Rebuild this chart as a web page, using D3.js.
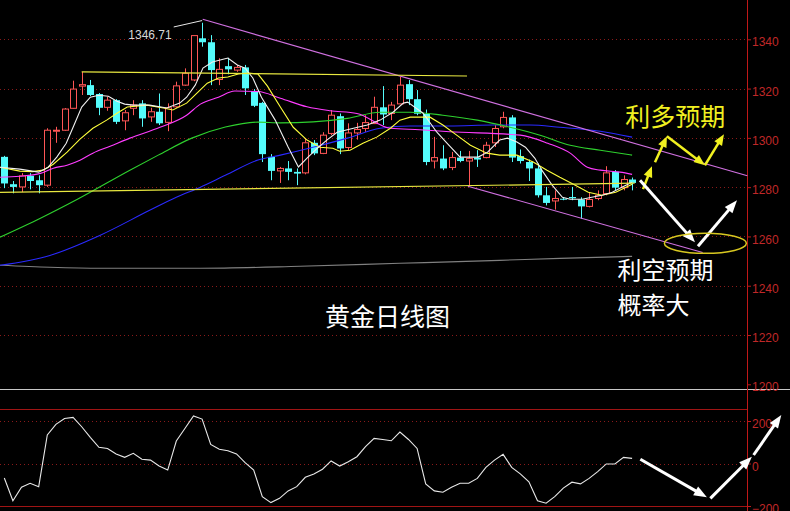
<!DOCTYPE html>
<html><head><meta charset="utf-8">
<script src="https://cdn.jsdelivr.net/npm/d3@7"></script>
<style>html,body{margin:0;padding:0;background:#000;overflow:hidden}</style>
</head><body><svg id="c" width="790" height="511"></svg>
<script>
// ---------- data ----------
const candleIdx = d3.range(1, 75);
const open = [1292.3,1281.2,1280.1,1284.6,1282.8,1280.8,1302.7,1303.1,1312.0,1321.0,
1321.4,1317.8,1312.4,1315.3,1306.9,1312.0,1314.0,1308.5,1310.6,1306.3,
1312.6,1321.4,1323.5,1340.4,1338.8,1323.7,1329.1,1327.5,1328.6,1319.0,
1314.2,1292.3,1286.6,1287.6,1286.2,1285.8,1298.0,1293.7,1301.8,1308.8,
1296.1,1302.0,1303.8,1305.8,1312.4,1309.9,1313.8,1321.8,1315.7,1309.8,
1290.6,1291.6,1288.0,1292.0,1290.6,1292.0,1292.0,1298.0,1304.5,1308.3,
1292.6,1290.2,1287.6,1276.7,1274.4,1275.3,1276.0,1275.0,1272.2,1275.4,
1277.4,1286.3,1279.8,1283.1];
const high = [1292.7,1282.5,1285.7,1285.7,1284.8,1303.9,1304.5,1312.1,1323.2,1326.8,
1323.5,1318.2,1316.7,1315.7,1311.3,1315.3,1315.3,1312.2,1318.0,1314.0,
1322.8,1328.2,1341.7,1346.71,1341.7,1332.3,1332.5,1329.6,1329.6,1319.8,
1314.6,1293.4,1288.2,1290.6,1287.6,1299.8,1299.1,1302.3,1311.3,1309.9,
1305.9,1306.1,1309.2,1316.7,1321.0,1314.6,1324.7,1323.5,1319.4,1311.5,
1300.4,1297.0,1294.3,1294.7,1294.7,1295.0,1298.4,1305.2,1310.6,1309.2,
1295.3,1291.2,1289.6,1280.1,1278.7,1276.0,1280.1,1275.9,1277.9,1278.7,
1288.5,1286.9,1284.8,1283.9];
const low = [1279.6,1277.5,1278.0,1279.1,1277.5,1280.1,1298.0,1302.8,1311.8,1317.4,
1317.0,1309.2,1311.0,1305.6,1303.1,1309.2,1304.5,1306.5,1305.2,1302.7,
1312.2,1321.1,1323.0,1337.0,1321.4,1321.4,1325.8,1326.8,1317.4,1312.5,
1290.2,1282.8,1281.7,1282.8,1280.8,1285.2,1293.0,1293.4,1301.1,1293.4,
1295.0,1299.3,1302.4,1305.6,1305.2,1307.2,1313.7,1313.3,1309.2,1288.9,
1287.6,1286.9,1286.9,1290.1,1280.4,1288.2,1291.7,1296.3,1303.9,1290.2,
1289.6,1282.5,1275.8,1272.6,1270.9,1274.7,1274.7,1267.2,1271.8,1274.7,
1276.7,1278.7,1278.7,1278.7];
const close = [1281.5,1280.1,1284.6,1282.5,1280.8,1303.1,1303.1,1311.7,1319.8,1321.6,
1317.4,1312.2,1315.3,1306.5,1310.2,1313.3,1307.9,1310.6,1305.9,1312.2,
1321.1,1326.2,1341.5,1338.8,1327.5,1327.8,1327.8,1328.6,1320.1,1313.0,
1293.4,1286.6,1287.6,1286.2,1285.5,1298.0,1293.7,1301.1,1309.2,1295.7,
1302.0,1303.4,1306.2,1312.4,1309.5,1313.3,1321.4,1315.7,1309.8,1290.2,
1292.0,1287.6,1292.0,1290.6,1291.6,1291.2,1297.0,1303.8,1308.3,1292.0,
1290.6,1287.6,1276.7,1273.6,1275.4,1275.2,1275.5,1272.2,1275.0,1276.7,
1285.8,1279.8,1283.1,1281.7];
// oscillator (lower panel), one value per candle
const osc = [-68,-175,-112,-93,-109,134,184,212,217,173,
123,76,71,45,29,48,20,16,-12,-31,
106,165,224,209,90,67,60,45,4,-31,
-156,-184,-164,-129,-109,-65,-49,-27,12,-12,
8,32,79,118,113,107,148,113,71,-96,
-129,-135,-112,-93,-93,-70,-18,16,43,-18,
-49,-86,-175,-187,-156,-116,-88,-96,-70,-38,
-2,-2,29,24];
// moving averages: [candle position, price]
const ma5 = [[0.5,1288.1],[2.8,1287.3],[5.0,1286.1],[6.1,1288.1],[7.1,1292.2],[8.2,1297.8],[9.1,1305.1],[10.0,1312.5],[11.0,1316.5],[12.0,1317.3],[13.1,1316.9],[14.1,1314.9],[15.0,1313.7],[16.0,1313.3],[17.9,1313.3],[19.9,1312.1],[21.4,1314.1],[22.2,1316.5],[23.2,1321.4],[24.1,1328.3],[25.2,1330.8],[26.1,1331.6],[27.0,1332.4],[28.1,1329.6],[29.0,1328.3],[29.9,1324.3],[30.9,1316.5],[32.5,1307.2],[34.0,1296.3],[35.2,1288.2],[36.2,1291.8],[37.4,1295.8],[38.5,1299.1],[39.7,1302.3],[41.6,1303.9],[43.2,1305.2],[44.7,1307.2],[46.2,1310.4],[47.4,1314.1],[47.9,1314.5],[49.7,1310.0],[51.3,1302.3],[52.5,1297.8],[54.0,1292.2],[54.9,1292.2],[56.1,1292.2],[57.2,1294.2],[58.6,1299.1],[59.5,1299.9],[60.6,1298.3],[61.6,1296.2],[62.7,1291.7],[63.5,1286.9],[64.7,1280.8],[65.9,1275.9],[66.8,1275.1],[68.2,1275.1],[69.3,1275.9],[70.5,1276.7],[71.7,1277.9],[72.8,1280.0],[74.0,1282.0]];
const ma10 = [[0.5,1288.1],[2.8,1286.5],[4.3,1286.3],[5.5,1286.9],[6.7,1289.3],[8.3,1294.2],[9.8,1299.5],[11.3,1303.9],[12.9,1307.2],[14.1,1310.0],[15.3,1312.5],[17.6,1313.3],[19.5,1312.1],[20.6,1311.3],[22.2,1314.1],[23.4,1318.2],[24.6,1322.2],[25.9,1324.3],[27.0,1324.7],[28.2,1325.9],[29.3,1326.3],[30.5,1325.9],[31.6,1321.0],[33.1,1312.5],[34.6,1304.3],[36.2,1299.1],[37.7,1296.2],[39.2,1295.8],[40.0,1294.6],[41.2,1295.0],[42.7,1297.8],[44.3,1300.3],[45.9,1303.9],[47.0,1307.2],[48.2,1308.4],[50.5,1308.4],[52.0,1305.2],[53.6,1301.1],[55.2,1297.0],[57.1,1293.8],[58.6,1293.0],[60.6,1293.0],[62.5,1290.2],[64.1,1286.9],[65.6,1284.0],[67.4,1280.8],[68.9,1277.9],[70.5,1276.7],[72.1,1277.9],[74.0,1281.2]];
const ma20 = [[0.5,1284.0],[2.8,1284.4],[5.2,1285.6],[6.7,1287.7],[8.3,1288.9],[9.8,1290.9],[11.3,1293.8],[13.3,1296.6],[15.6,1299.9],[19.1,1304.3],[22.2,1309.2],[23.8,1313.7],[25.9,1316.5],[27.8,1319.0],[30.5,1318.8],[33.1,1316.1],[36.2,1312.6],[38.9,1311.0],[42.0,1309.9],[45.9,1303.9],[49.3,1303.3],[52.8,1302.5],[61.0,1301.1],[64.2,1297.8],[66.8,1293.8],[68.8,1288.1],[70.3,1286.9],[72.6,1286.1],[74.0,1285.2]];
const ma30 = [[0.5,1259.7],[5.2,1267.4],[9.5,1275.1],[15.6,1286.9],[18.9,1293.0],[22.8,1299.9],[26.7,1304.4],[30.5,1306.4],[33.1,1306.1],[36.9,1306.5],[40.9,1307.9],[44.7,1310.4],[48.2,1310.4],[52.0,1309.2],[56.0,1307.2],[59.8,1304.3],[63.3,1301.1],[66.8,1297.0],[70.3,1295.0],[74.0,1293.0]];
const ma60 = [[0.5,1248.3],[6.3,1252.3],[12.1,1260.4],[17.9,1270.6],[21.0,1275.9],[23.8,1280.0],[26.7,1284.8],[30.5,1291.0],[33.1,1293.0],[36.9,1296.2],[40.9,1299.9],[44.7,1303.9],[48.2,1304.8],[52.8,1304.8],[57.8,1305.2],[62.1,1305.2],[65.6,1304.3],[70.3,1302.7],[74.0,1300.3]];
const ma120 = [[0.5,1248.3],[6.3,1247.5],[12.1,1247.1],[23.8,1247.1],[35.4,1247.9],[47.0,1249.1],[58.6,1250.3],[65.6,1251.1],[74.0,1251.9]];
const priceTicks = [1200,1220,1240,1260,1280,1300,1320,1340];
const oscTicks = [-200,0,200];
// drawn annotations: [pos1, price1, pos2, price2]
const trendLines = [[24.07,1348.1,87.4,1284.6],[54.9,1280.4,82.2,1253.5]];
const levelLines = [[10.0,1326.8,54.8,1325.1],[0.5,1277.9,74.3,1281.6]];
const highPointer = [20.7,1345.0,24.0,1347.6];
const yellowArrows = [[75.27,1279.2,76.31,1288.5],[76.66,1290.1,78.05,1300.7],[78.05,1300.7,82.47,1288.9],[82.47,1288.9,84.68,1301.5]];
const whiteArrows = [[74.92,1282.8,81.31,1257.6],[81.66,1256.0,86.2,1274.7]];
const oscArrows = [[74.96,20,82.7,-159],[83.1,-164,87.93,32],[88.13,40,91.35,228]];
const ellipse = [82.52,1257.2];
const notes = [['利多预期',73.2,1309.3,'#f0f020',25],['利空预期',72.3,1246.8,'#ffffff',24],['概率大',72.3,1232.8,'#ffffff',24],['黄金日线图',38.3,1228.0,'#ffffff',25]];

// ---------- drawing ----------
const W=790,H=511, axisX=747;
const svg=d3.select('#c');
svg.append('rect').attr('width',W).attr('height',H).attr('fill','#000');
const x=d3.scaleLinear().domain([1,74]).range([4.3,632.1]);
const y=d3.scaleLinear().domain([1200,1340]).range([384.3,39.3]);
const yi=d3.scaleLinear().domain([-200,200]).range([506,421]);
const gridC='#8a1a1a', axisC='#c01818', labC='#c02828';

svg.append('g').selectAll('line').data(priceTicks.filter(v=>v>1200)).join('line')
  .attr('x1',0).attr('x2',axisX).attr('y1',d=>Math.round(y(d))+0.5).attr('y2',d=>Math.round(y(d))+0.5)
  .attr('stroke',gridC).attr('stroke-dasharray','1 3');
svg.append('g').selectAll('line').data(oscTicks.filter(v=>v!==-200)).join('line')
  .attr('x1',0).attr('x2',axisX).attr('y1',d=>Math.round(yi(d))+0.5).attr('y2',d=>Math.round(yi(d))+0.5)
  .attr('stroke',gridC).attr('stroke-dasharray','1 3');
svg.append('line').attr('x1',0).attr('x2',W).attr('y1',389.5).attr('y2',389.5).attr('stroke','#c8c8c8');
svg.append('line').attr('x1',0).attr('x2',axisX).attr('y1',409.5).attr('y2',409.5).attr('stroke','#a01414').attr('stroke-width',1.2);
svg.append('line').attr('x1',0).attr('x2',axisX).attr('y1',Math.round(yi(-200))+0.5).attr('y2',Math.round(yi(-200))+0.5).attr('stroke','#a01414').attr('stroke-width',1.2);
svg.append('line').attr('x1',axisX+0.5).attr('x2',axisX+0.5).attr('y1',0).attr('y2',H).attr('stroke',axisC);

const ax=svg.append('g').attr('transform',`translate(${axisX},0)`)
  .call(d3.axisRight(y).tickValues(priceTicks).tickSize(4).tickFormat(d3.format('d')));
ax.select('.domain').remove();
ax.selectAll('line').attr('stroke',axisC);
ax.selectAll('text').attr('fill',labC).attr('font-family','Liberation Sans, Arial, sans-serif').attr('font-size',12).attr('dy','0.55em').attr('x',5);
const ax2=svg.append('g').attr('transform',`translate(${axisX},0)`)
  .call(d3.axisRight(yi).tickValues(oscTicks).tickSize(4).tickFormat(d3.format('d')));
ax2.select('.domain').remove();
ax2.selectAll('line').attr('stroke',axisC);
ax2.selectAll('text').attr('fill',labC).attr('font-family','Liberation Sans, Arial, sans-serif').attr('font-size',12).attr('dy','0.55em').attr('x',5);

const cd = candleIdx.map((i,k)=>({i,o:open[k],h:high[k],l:low[k],c:close[k]}));
const up='#ff5656', dn='#54fcfc', bw=3;
const cg=svg.append('g');
cd.forEach(d=>{
  const cx=Math.round(x(d.i))+0.5;
  const isUp=d.c>=d.o, col=isUp?up:dn;
  const top=y(Math.max(d.o,d.c)), bot=y(Math.min(d.o,d.c));
  const hgt=Math.max(1,bot-top);
  if(isUp){
    cg.append('line').attr('x1',cx).attr('x2',cx).attr('y1',y(d.h)).attr('y2',top).attr('stroke',col);
    cg.append('line').attr('x1',cx).attr('x2',cx).attr('y1',top+hgt).attr('y2',y(d.l)).attr('stroke',col);
    cg.append('rect').attr('x',cx-bw).attr('y',top).attr('width',bw*2).attr('height',hgt)
      .attr('fill','#000').attr('stroke',col);
  } else {
    cg.append('line').attr('x1',cx).attr('x2',cx).attr('y1',y(d.h)).attr('y2',y(d.l)).attr('stroke',col);
    cg.append('rect').attr('x',cx-bw-0.5).attr('y',top).attr('width',bw*2+1).attr('height',hgt).attr('fill',col);
  }
});

const line=d3.line().x(d=>x(d[0])).y(d=>y(d[1]));
const sm=d3.line().x(d=>x(d[0])).y(d=>y(d[1])).curve(d3.curveMonotoneX);
[[ma120,'#808080',sm],[ma60,'#2a2aff',sm],[ma30,'#2ed02e',sm],[ma20,'#ff3cff',sm],[ma10,'#ffff3c',line],[ma5,'#f0f0f0',line]]
  .forEach(([d,c,g])=>svg.append('path').attr('d',g(d)).attr('fill','none').attr('stroke',c).attr('stroke-width',1.1));

const seg=(a,col,w)=>svg.append('line').attr('x1',x(a[0])).attr('y1',y(a[1])).attr('x2',x(a[2])).attr('y2',y(a[3])).attr('stroke',col).attr('stroke-width',w);
trendLines.forEach(a=>seg(a,'#d070e0',1.1));
levelLines.forEach(a=>seg(a,'#e8e840',1.2));
seg(highPointer,'#e8e8e8',1);
svg.append('text').attr('x',x(highPointer[0])-2).attr('y',y(1341.7)).attr('text-anchor','end')
  .attr('dominant-baseline','central').attr('fill','#d8d8d8').attr('font-size',12)
  .attr('font-family','Liberation Sans, Arial, sans-serif').text('1346.71');

function arrow(x1,y1,x2,y2,col,sw,hl,hw){
  const dx=x2-x1,dy=y2-y1,L=Math.hypot(dx,dy),ux=dx/L,uy=dy/L;
  const bx=x2-ux*hl,by=y2-uy*hl;
  svg.append('line').attr('x1',x1).attr('y1',y1).attr('x2',bx+ux*1).attr('y2',by+uy*1).attr('stroke',col).attr('stroke-width',sw);
  svg.append('path').attr('d',`M${x2},${y2}L${bx-uy*hw/2},${by+ux*hw/2}L${bx+uy*hw/2},${by-ux*hw/2}Z`).attr('fill',col);
}
yellowArrows.forEach(a=>arrow(x(a[0]),y(a[1]),x(a[2]),y(a[3]),'#f0f020',2.5,11,9));
whiteArrows.forEach(a=>arrow(x(a[0]),y(a[1]),x(a[2]),y(a[3]),'#ffffff',3,13,10));
oscArrows.forEach(a=>arrow(x(a[0]),yi(a[1]),x(a[2]),yi(a[3]),'#ffffff',3,13,10));
svg.append('ellipse').attr('cx',x(ellipse[0])).attr('cy',y(ellipse[1])).attr('rx',41).attr('ry',10)
  .attr('fill','none').attr('stroke','#d8c820').attr('stroke-width',1.5);

svg.append('path').attr('d',d3.line().x((d,k)=>x(candleIdx[k])).y(d=>yi(d))(osc))
  .attr('fill','none').attr('stroke','#e8e8e8').attr('stroke-width',1.1);

notes.forEach(([s,px,pr,col,fs])=>svg.append('text').attr('x',x(px)).attr('y',y(pr)).attr('dominant-baseline','central')
  .attr('fill',col).attr('font-size',fs).attr('font-family','Noto Sans CJK SC, sans-serif').text(s));
</script></body></html>
